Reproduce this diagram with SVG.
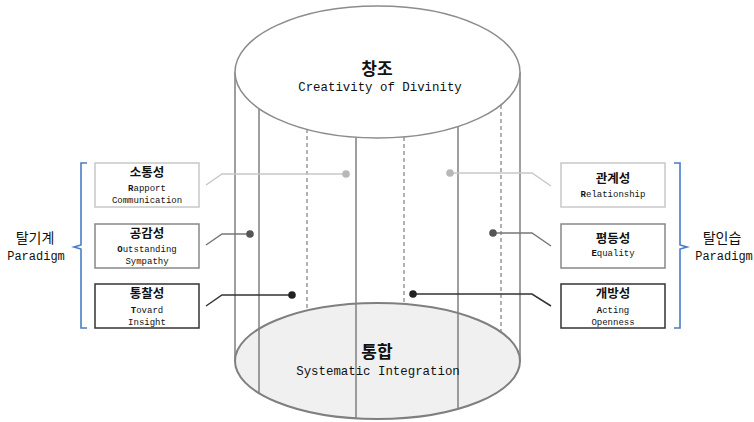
<svg xmlns="http://www.w3.org/2000/svg" width="754" height="422" viewBox="0 0 754 422">
<style>
.kr{font-family:"Noto Sans CJK KR","Noto Sans",sans-serif;font-weight:bold;fill:#111;text-anchor:middle}
.en{font-family:"Liberation Mono","DejaVu Sans Mono",monospace;fill:#111;text-anchor:middle}
.b{font-weight:bold}
.cyl{stroke:#7f7f7f;stroke-width:1.5;fill:none}
.dash{stroke:#7f7f7f;stroke-width:1.2;stroke-dasharray:4 3;fill:none}
.box{fill:#fff;stroke-width:1.5}
.brk{fill:none;stroke:#4a7cc4;stroke-width:1.6}
</style>
<g id="cylinder">
  <ellipse cx="377.5" cy="361" rx="142.5" ry="58" fill="#f0f0f0" stroke="none"/>
  <line class="cyl" x1="235" y1="72" x2="235" y2="361"/>
  <line class="cyl" x1="520" y1="72" x2="520" y2="361"/>
  <line class="cyl" x1="259" y1="108" x2="259" y2="393"/>
  <line class="cyl" x1="356" y1="137" x2="356" y2="418"/>
  <line class="cyl" x1="458" y1="126" x2="458" y2="409"/>
  <line class="dash" x1="307" y1="129" x2="307" y2="310"/>
  <line class="dash" x1="404" y1="137" x2="404" y2="304"/>
  <line class="dash" x1="501" y1="105" x2="501" y2="332"/>
  <ellipse cx="377.5" cy="361" rx="142.5" ry="58" fill="none" stroke="#7f7f7f" stroke-width="2"/>
  <ellipse cx="377.5" cy="72" rx="142.5" ry="66" fill="#fff" stroke="#8c8c8c" stroke-width="1.5"/>
</g>
<g id="top-label">
  <text class="kr" x="377" y="75" font-size="17">창조</text>
  <text class="en" x="380" y="91" font-size="12.4">Creativity of Divinity</text>
</g>
<g id="bottom-label">
  <text class="kr" x="377" y="358" font-size="17">통합</text>
  <text class="en" x="378" y="375" font-size="12.4">Systematic Integration</text>
</g>
<g id="connectors">
  <polyline points="206,185 222,174 346,174" fill="none" stroke="#c8c8c8" stroke-width="1.5"/>
  <circle cx="346" cy="174" r="3.8" fill="#b8b8b8"/>
  <polyline points="206,245 222,234 250,234" fill="none" stroke="#777" stroke-width="1.5"/>
  <circle cx="250" cy="234" r="3.8" fill="#555"/>
  <polyline points="206,306 222,295 292,295" fill="none" stroke="#333" stroke-width="1.5"/>
  <circle cx="292" cy="295" r="3.8" fill="#222"/>
  <polyline points="450,173 532,173 551,186" fill="none" stroke="#c8c8c8" stroke-width="1.5"/>
  <circle cx="450" cy="173" r="3.8" fill="#b8b8b8"/>
  <polyline points="493,233 532,233 551,246" fill="none" stroke="#777" stroke-width="1.5"/>
  <circle cx="493" cy="233" r="3.8" fill="#555"/>
  <polyline points="413,294 532,294 551,306" fill="none" stroke="#333" stroke-width="1.5"/>
  <circle cx="413" cy="294" r="3.8" fill="#222"/>
</g>
<g id="box-sotong">
  <rect class="box" x="95" y="163" width="104" height="44" stroke="#c8c8c8"/>
  <text class="kr" x="147" y="177" font-size="12.5">소통성</text>
  <text class="en" x="147" y="191" font-size="9"><tspan class="b">R</tspan>apport</text>
  <text class="en" x="147" y="203" font-size="9">Communication</text>
</g>
<g id="box-gonggam">
  <rect class="box" x="95" y="224" width="104" height="44" stroke="#888"/>
  <text class="kr" x="147" y="238" font-size="12.5">공감성</text>
  <text class="en" x="147" y="252" font-size="9"><tspan class="b">O</tspan>utstanding</text>
  <text class="en" x="147" y="264" font-size="9">Sympathy</text>
</g>
<g id="box-tongchal">
  <rect class="box" x="95" y="284" width="104" height="44" stroke="#333"/>
  <text class="kr" x="147" y="298" font-size="12.5">통찰성</text>
  <text class="en" x="147" y="313" font-size="9"><tspan class="b">T</tspan>ovard</text>
  <text class="en" x="147" y="325" font-size="9">Insight</text>
</g>
<g id="box-gwangye">
  <rect class="box" x="561" y="163" width="104" height="44" stroke="#c8c8c8"/>
  <text class="kr" x="613" y="183" font-size="12.5">관계성</text>
  <text class="en" x="613" y="197" font-size="9"><tspan class="b">R</tspan>elationship</text>
</g>
<g id="box-pyeongdeung">
  <rect class="box" x="561" y="224" width="104" height="44" stroke="#888"/>
  <text class="kr" x="613" y="243" font-size="12.5">평등성</text>
  <text class="en" x="613" y="256" font-size="9"><tspan class="b">E</tspan>quality</text>
</g>
<g id="box-gaebang">
  <rect class="box" x="561" y="284" width="104" height="44" stroke="#333"/>
  <text class="kr" x="613" y="298" font-size="12.5">개방성</text>
  <text class="en" x="613" y="313" font-size="9"><tspan class="b">A</tspan>cting</text>
  <text class="en" x="613" y="325" font-size="9">Openness</text>
</g>
<g id="left-group">
  <path class="brk" d="M87,163 H81 V245 L74,247 L81,249 V328 H87"/>
  <text class="kr" x="35" y="243" font-size="14" style="font-weight:normal">탈기계</text>
  <text class="en" x="36" y="260" font-size="12">Paradigm</text>
</g>
<g id="right-group">
  <path class="brk" d="M674,163 H680 V245 L687,247 L680,249 V328 H674"/>
  <text class="kr" x="722" y="243" font-size="14" style="font-weight:normal">탈인습</text>
  <text class="en" x="724" y="260" font-size="12">Paradigm</text>
</g>
</svg>
